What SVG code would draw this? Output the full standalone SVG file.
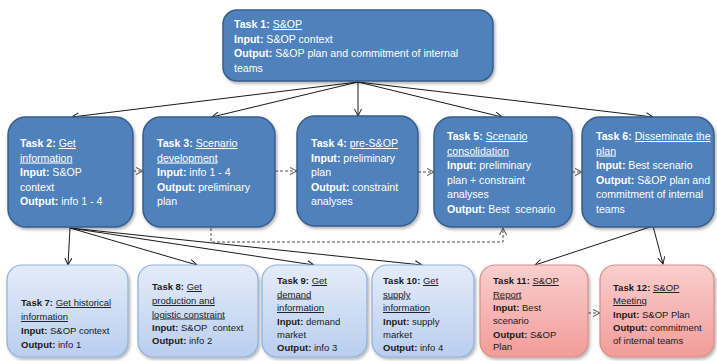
<svg xmlns="http://www.w3.org/2000/svg" width="717" height="361" viewBox="0 0 717 361">
  <defs>
    <style>
      .top { fill: #4F81BD; stroke: #385D8A; stroke-width: 1.5; filter: url(#shadow); }
      .info { fill: url(#blueGrad); stroke: #8DB0DD; stroke-width: 1.2; filter: url(#shadow); }
      .out { fill: url(#redGrad); stroke: #D98A87; stroke-width: 1.2; filter: url(#shadow); }
      .tw { font-family: "Liberation Sans", Arial, sans-serif; font-size: 10.6px; fill: #FFFFFF; }
      .tb { font-family: "Liberation Sans", Arial, sans-serif; font-size: 9.5px; fill: #1A1A1A; }
      .b { font-weight: bold; }
      .u { text-decoration: underline; }
      .link { fill: none; stroke: #1A1A1A; stroke-width: 1; marker-end: url(#open); }
      .dash { fill: none; stroke: #4D4D4D; stroke-width: 1; stroke-dasharray: 3 2; marker-end: url(#openGray); }
    </style>
    <linearGradient id="blueGrad" x1="0" y1="0" x2="0" y2="1">
      <stop offset="0" stop-color="#E4ECF8"/>
      <stop offset="1" stop-color="#B9CEEF"/>
    </linearGradient>
    <linearGradient id="redGrad" x1="0" y1="0" x2="0" y2="1">
      <stop offset="0" stop-color="#F9CFCE"/>
      <stop offset="1" stop-color="#F19C99"/>
    </linearGradient>
    <filter id="shadow" x="-10%" y="-10%" width="125%" height="130%">
      <feDropShadow dx="1.5" dy="2" stdDeviation="1.5" flood-color="#000" flood-opacity="0.3"/>
    </filter>
    <marker id="open" markerWidth="8" markerHeight="8" refX="7" refY="4" orient="auto" markerUnits="userSpaceOnUse">
      <path d="M0,0.5 L7,4 L0,7.5" fill="none" stroke="#1A1A1A" stroke-width="1"/>
    </marker>
    <marker id="openGray" markerWidth="8" markerHeight="8" refX="7" refY="4" orient="auto" markerUnits="userSpaceOnUse">
      <path d="M0,0.5 L7,4 L0,7.5" fill="none" stroke="#4D4D4D" stroke-width="1"/>
    </marker>
  </defs>

  <!-- connectors -->
  <g id="connectors">
    <path class="link" d="M358,82 L72,117"/>
    <path class="link" d="M358,82 L212,117"/>
    <path class="link" d="M358,82 L358,116"/>
    <path class="link" d="M358,82 L502,117"/>
    <path class="link" d="M358,82 L653,117"/>
    <path class="link" d="M70,228 L68,265"/>
    <path class="link" d="M70,228 L197,265"/>
    <path class="link" d="M70,228 L314,265"/>
    <path class="link" d="M70,228 L422,265"/>
    <path class="link" d="M653,226 L535,265"/>
    <path class="link" d="M653,226 L663,264"/>
    <path class="dash" d="M133,171 L143,171"/>
    <path class="dash" d="M275,171 L297,171"/>
    <path class="dash" d="M418,172 L434,172"/>
    <path class="dash" d="M572,172 L582,172"/>
    <path class="dash" d="M211,228 V242 H503 V228"/>
    <path class="dash" d="M588,313 L600,313"/>
  </g>

  <g id="task1">
    <rect class="top" x="223" y="10" width="270" height="71" rx="14"/>
    <text class="tw" x="234" y="28"><tspan class="b">Task 1: </tspan><tspan class="u">S&amp;OP</tspan></text>
    <text class="tw" x="234" y="42.5"><tspan class="b">Input: </tspan>S&amp;OP context</text>
    <text class="tw" x="234" y="57"><tspan class="b">Output: </tspan>S&amp;OP plan and commitment of internal</text>
    <text class="tw" x="234" y="71.5">teams</text>
  </g>

  <g id="task2">
    <rect class="top" x="8" y="117" width="125" height="110" rx="18"/>
    <text class="tw" x="20" y="147"><tspan class="b">Task 2: </tspan><tspan class="u">Get</tspan></text>
    <text class="tw" x="20" y="161.5"><tspan class="u">information</tspan></text>
    <text class="tw" x="20" y="176"><tspan class="b">Input: </tspan>S&amp;OP</text>
    <text class="tw" x="20" y="190.5">context</text>
    <text class="tw" x="20" y="205"><tspan class="b">Output: </tspan>info 1 - 4</text>
  </g>

  <g id="task3">
    <rect class="top" x="143" y="117" width="132" height="110" rx="18"/>
    <text class="tw" x="157" y="147"><tspan class="b">Task 3: </tspan><tspan class="u">Scenario</tspan></text>
    <text class="tw" x="157" y="161.5"><tspan class="u">development</tspan></text>
    <text class="tw" x="157" y="176"><tspan class="b">Input: </tspan>info 1 - 4</text>
    <text class="tw" x="157" y="190.5"><tspan class="b">Output: </tspan>preliminary</text>
    <text class="tw" x="157" y="205">plan</text>
  </g>

  <g id="task4">
    <rect class="top" x="297" y="116" width="121" height="110" rx="18"/>
    <text class="tw" x="311" y="147"><tspan class="b">Task 4: </tspan><tspan class="u">pre-S&amp;OP</tspan></text>
    <text class="tw" x="311" y="161.5"><tspan class="b">Input: </tspan>preliminary</text>
    <text class="tw" x="311" y="176">plan</text>
    <text class="tw" x="311" y="190.5"><tspan class="b">Output: </tspan>constraint</text>
    <text class="tw" x="311" y="205">analyses</text>
  </g>

  <g id="task5">
    <rect class="top" x="434" y="117" width="138" height="110" rx="18"/>
    <text class="tw" x="447" y="140"><tspan class="b">Task 5: </tspan><tspan class="u">Scenario</tspan></text>
    <text class="tw" x="447" y="154.5"><tspan class="u">consolidation</tspan></text>
    <text class="tw" x="447" y="169"><tspan class="b">Input: </tspan>preliminary</text>
    <text class="tw" x="447" y="183.5">plan + constraint</text>
    <text class="tw" x="447" y="198">analyses</text>
    <text class="tw" x="447" y="212.5"><tspan class="b">Output: </tspan>Best&#160; scenario</text>
  </g>

  <g id="task6">
    <rect class="top" x="582" y="117" width="132" height="110" rx="18"/>
    <text class="tw" x="596" y="140"><tspan class="b">Task 6: </tspan><tspan class="u">Disseminate the</tspan></text>
    <text class="tw" x="596" y="154.5"><tspan class="u">plan</tspan></text>
    <text class="tw" x="596" y="169"><tspan class="b">Input: </tspan>Best scenario</text>
    <text class="tw" x="596" y="183.5"><tspan class="b">Output: </tspan>S&amp;OP plan and</text>
    <text class="tw" x="596" y="198">commitment of internal</text>
    <text class="tw" x="596" y="212.5">teams</text>
  </g>

  <g id="task7">
    <rect class="info" x="7" y="265" width="121" height="92" rx="15"/>
    <text class="tb" x="21" y="306"><tspan class="b">Task 7: </tspan><tspan class="u">Get historical</tspan></text>
    <text class="tb" x="21" y="320"><tspan class="u">information</tspan></text>
    <text class="tb" x="21" y="334"><tspan class="b">Input: </tspan>S&amp;OP context</text>
    <text class="tb" x="21" y="348"><tspan class="b">Output: </tspan>info 1</text>
  </g>

  <g id="task8">
    <rect class="info" x="138" y="265" width="120" height="92" rx="15"/>
    <text class="tb" x="152" y="290"><tspan class="b">Task 8: </tspan><tspan class="u">Get</tspan></text>
    <text class="tb" x="152" y="304"><tspan class="u">production and</tspan></text>
    <text class="tb" x="152" y="317.5"><tspan class="u">logistic constraint</tspan></text>
    <text class="tb" x="152" y="331"><tspan class="b">Input: </tspan>S&amp;OP&#160; context</text>
    <text class="tb" x="152" y="344"><tspan class="b">Output: </tspan>info 2</text>
  </g>

  <g id="task9">
    <rect class="info" x="262" y="265" width="105" height="92" rx="15"/>
    <text class="tb" x="277" y="284"><tspan class="b">Task 9: </tspan><tspan class="u">Get</tspan></text>
    <text class="tb" x="277" y="297.5"><tspan class="u">demand</tspan></text>
    <text class="tb" x="277" y="311"><tspan class="u">information</tspan></text>
    <text class="tb" x="277" y="324.5"><tspan class="b">Input: </tspan>demand</text>
    <text class="tb" x="277" y="338">market</text>
    <text class="tb" x="277" y="351"><tspan class="b">Output: </tspan>info 3</text>
  </g>

  <g id="task10">
    <rect class="info" x="372" y="265" width="102" height="92" rx="15"/>
    <text class="tb" x="383" y="284"><tspan class="b">Task 10: </tspan><tspan class="u">Get</tspan></text>
    <text class="tb" x="383" y="297.5"><tspan class="u">supply</tspan></text>
    <text class="tb" x="383" y="311"><tspan class="u">information</tspan></text>
    <text class="tb" x="383" y="324.5"><tspan class="b">Input: </tspan>supply</text>
    <text class="tb" x="383" y="338">market</text>
    <text class="tb" x="383" y="351"><tspan class="b">Output: </tspan>info 4</text>
  </g>

  <g id="task11">
    <rect class="out" x="480" y="265" width="108" height="92" rx="15"/>
    <text class="tb" x="493" y="284"><tspan class="b">Task 11: </tspan><tspan class="u">S&amp;OP</tspan></text>
    <text class="tb" x="493" y="297.5"><tspan class="u">Report</tspan></text>
    <text class="tb" x="493" y="311"><tspan class="b">Input: </tspan>Best</text>
    <text class="tb" x="493" y="324">scenario</text>
    <text class="tb" x="493" y="337.5"><tspan class="b">Output: </tspan>S&amp;OP</text>
    <text class="tb" x="493" y="350">Plan</text>
  </g>

  <g id="task12">
    <rect class="out" x="600" y="265" width="114" height="92" rx="15"/>
    <text class="tb" x="613" y="291"><tspan class="b">Task 12: </tspan><tspan class="u">S&amp;OP</tspan></text>
    <text class="tb" x="613" y="304"><tspan class="u">Meeting</tspan></text>
    <text class="tb" x="613" y="317.5"><tspan class="b">Input: </tspan>S&amp;OP Plan</text>
    <text class="tb" x="613" y="330.5"><tspan class="b">Output: </tspan>commitment</text>
    <text class="tb" x="613" y="343.5">of internal teams</text>
  </g>
</svg>
